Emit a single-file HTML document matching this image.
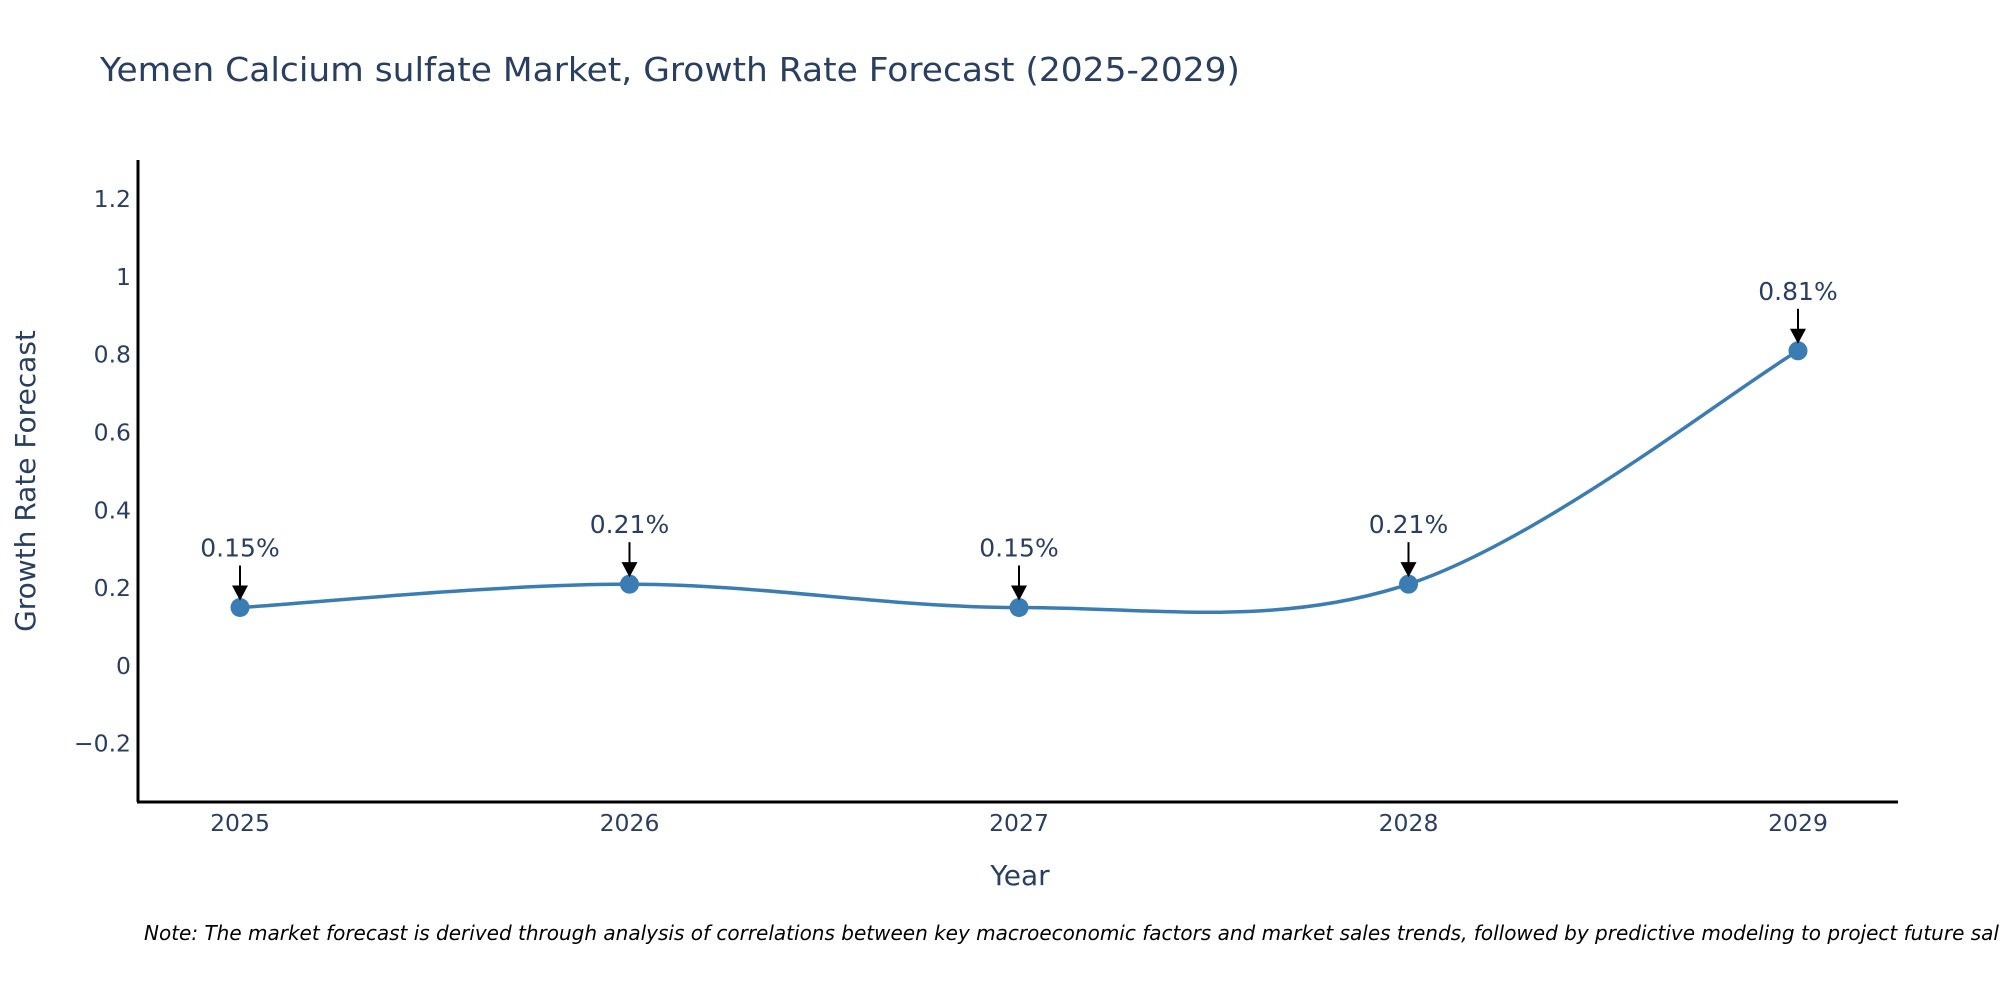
<!DOCTYPE html>
<html><head><meta charset="utf-8"><style>
body{margin:0;background:#fff;}
svg text{font-family:"DejaVu Sans","Liberation Sans",sans-serif;fill:#2a3f5f;}
</style></head><body>
<svg id="chart" width="2000" height="1000" viewBox="0 0 2000 1000" xmlns="http://www.w3.org/2000/svg">
<rect width="2000" height="1000" fill="#fff"/>
<text x="100" y="81" font-size="33" textLength="1140" lengthAdjust="spacingAndGlyphs">Yemen Calcium sulfate Market, Growth Rate Forecast (2025-2029)</text>
<g id="yticks"></g>
<g id="xticks"></g>
<line x1="138" y1="160" x2="138" y2="802" stroke="#000" stroke-width="3"/>
<line x1="137" y1="802" x2="1898" y2="802" stroke="#000" stroke-width="3"/>
<path id="line" fill="none" stroke="#3b7db2" stroke-width="3.5"/>
<g id="points"></g>
<g id="annots"></g>
<text transform="translate(35,481) rotate(-90)" text-anchor="middle" font-size="28">Growth Rate Forecast</text>
<text x="1020" y="885" text-anchor="middle" font-size="28">Year</text>
<text x="144" y="940" font-size="20" font-style="italic" style="fill:#000">Note: The market forecast is derived through analysis of correlations between key macroeconomic factors and market sales trends, followed by predictive modeling to project future sales.</text>
</svg>
<script>
const years=["2025","2026","2027","2028","2029"];
const values=[0.15,0.21,0.15,0.21,0.81];
const labels=["0.15%","0.21%","0.15%","0.21%","0.81%"];
const yTickVals=[-0.2,0,0.2,0.4,0.6,0.8,1,1.2];
const yTickLabels=["\u22120.2","0","0.2","0.4","0.6","0.8","1","1.2"];
const NS="http://www.w3.org/2000/svg";
const X0=240,X1=1798,YMIN=-0.35,YMAX=1.298,PT=161,PB=802;
function xs(i){return X0+(X1-X0)*i/(years.length-1);}
function ys(v){return PB-(v-YMIN)/(YMAX-YMIN)*(PB-PT);}
function mk(tag,attrs,parent){const e=document.createElementNS(NS,tag);for(const k in attrs)e.setAttribute(k,attrs[k]);parent.appendChild(e);return e;}
const yt=document.getElementById('yticks');
yTickVals.forEach((v,i)=>{const t=mk('text',{x:131,y:ys(v)+8,'text-anchor':'end','font-size':23.5},yt);


t.textContent=yTickLabels[i];});
const xt=document.getElementById('xticks');
years.forEach((y,i)=>{const t=mk('text',{x:xs(i),y:831,'text-anchor':'middle','font-size':23.5},xt);


t.textContent=y;});
const P=values.map((v,i)=>[xs(i),ys(v)]);
let d='M'+P[0][0]+','+P[0][1];const s=0.17;
for(let i=0;i<P.length-1;i++){const p0=P[i-1]||P[i],p1=P[i],p2=P[i+1],p3=P[i+2]||P[i+1];
d+=' C'+(p1[0]+(p2[0]-p0[0])*s)+','+(p1[1]+(p2[1]-p0[1])*s)+' '+(p2[0]-(p3[0]-p1[0])*s)+','+(p2[1]-(p3[1]-p1[1])*s)+' '+p2[0]+','+p2[1];}
document.getElementById('line').setAttribute('d',d);
const pg=document.getElementById('points'),ag=document.getElementById('annots');
P.forEach((p,i)=>{const c=mk('circle',{cx:p[0],cy:p[1],r:9.5,fill:'#3b7db2'},pg);


const l=mk('line',{x1:p[0],y1:p[1]-42,x2:p[0],y2:p[1]-20,stroke:'#000','stroke-width':2},ag);


const h=mk('polygon',{points:(p[0]-8)+','+(p[1]-22)+' '+(p[0]+8)+','+(p[1]-22)+' '+p[0]+','+(p[1]-7),fill:'#000'},ag);


const t=mk('text',{x:p[0],y:p[1]-51,'text-anchor':'middle','font-size':25},ag);


t.textContent=labels[i];});
</script>
</body></html>
